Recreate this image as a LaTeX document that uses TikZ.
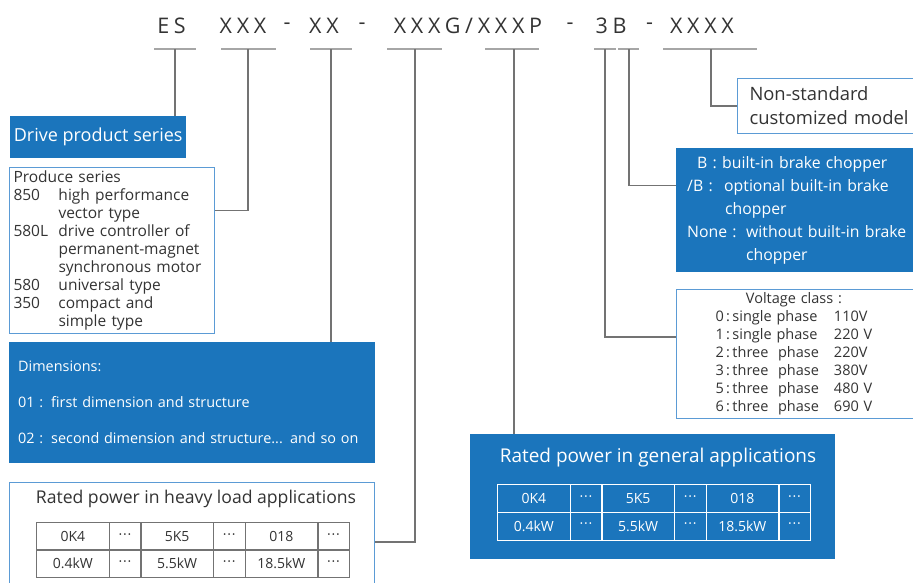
\documentclass[tikz,border=0pt]{standalone}
\usepackage{fontspec}
\setmainfont{Open Sans}
\newfontfamily\codefont[LetterSpace=22]{Open Sans}
\usetikzlibrary{positioning, matrix}

\definecolor{esblue}{RGB}{27,117,188}
\definecolor{edgeblue}{RGB}{91,155,213}
\definecolor{wiregray}{RGB}{115,115,115}
\definecolor{bargray}{RGB}{166,166,166}
\definecolor{inkgray}{RGB}{51,51,51}

\newcommand{\tdots}{·\kern0.8pt·\kern0.8pt·}

\begin{document}
\begin{tikzpicture}[x=1pt, y=-1pt,
  bluebox/.style={rectangle, fill=esblue, text=white, anchor=north west, inner sep=0pt},
  whitebox/.style={rectangle, draw=edgeblue, line width=1pt, fill=white, text=inkgray, anchor=north west, inner sep=0pt},
  code/.style={font=\codefont\fontsize{21.5}{24}\selectfont, text=inkgray, inner sep=0pt},
  bar/.style={draw=bargray, line width=1.3pt},
  wire/.style={draw=wiregray, line width=1.1pt},
  cell/.style={rectangle, draw, anchor=center, inner sep=0pt, outer sep=0pt, minimum height=#1, font=\fontsize{14}{16}\selectfont},
  ratetable/.style={matrix of nodes, anchor=north west, inner sep=0pt,
    column sep=-0.8pt, row sep=-0.8pt, nodes in empty cells,
    column 1/.style={nodes={minimum width=73pt}}, column 2/.style={nodes={minimum width=32pt}},
    column 3/.style={nodes={minimum width=73pt}}, column 4/.style={nodes={minimum width=32pt}},
    column 5/.style={nodes={minimum width=73pt}}, column 6/.style={nodes={minimum width=32pt}}}
]
\useasboundingbox (0,0) rectangle (913,582);

% ---------- Model code ----------
\foreach \x/\t [count=\i] in {171.5/ES, 243/XXX, 287/-, 324/XX, 362/-, 468/{XXXG/XXXP}, 570/-, 611/3B, 649.5/-, 702/XXXX}
  \node[code] (code\i) at (\x,26) {\t};

\foreach \l/\r/\s/\n in {154/196/175/es, 221/276/248/series, 310/352/331/dim, 387/442/415/heavy,
                         485/539/514/gen, 594/616/605/volt, 618/639/629/brake, 663/757/711/custom} {
  \draw[bar] (\l,49) -- (\r,49);
  \coordinate (\n) at (\s,49);
}

% ---------- Left column ----------
\node[bluebox, minimum width=176pt, minimum height=42pt, font=\fontsize{18}{22}\selectfont] (drive) at (10,116) {Drive product series};

\node[whitebox, minimum height=166pt, inner xsep=4pt, text width=197pt, align=left, font=\fontsize{15.5}{18}\selectfont] (prod) at (9,167) {Produce series\\
\makebox[45pt][l]{850}high performance\\
\hspace*{45pt}vector type\\
\makebox[45pt][l]{580L}drive controller of\\
\hspace*{45pt}permanent-magnet\\
\hspace*{45pt}synchronous motor\\
\makebox[45pt][l]{580}universal type\\
\makebox[45pt][l]{350}compact and\\
\hspace*{45pt}simple type};

\node[bluebox, minimum height=121pt, inner xsep=9pt, text width=348pt, align=left, font=\fontsize{14.4}{36}\selectfont] (dims) at (9,342) {Dimensions:\\
\makebox[33pt][l]{01 :}first dimension and structure\\
\makebox[33pt][l]{02 :}second dimension and structure... and so on};

\node[whitebox, minimum width=365pt, minimum height=120pt] (hbox) at (9,482) {};
\node[font=\fontsize{17.6}{20}\selectfont, text=inkgray] (htitle) at (196,499) {Rated power in heavy load applications};
\matrix[ratetable, nodes={cell=27.5pt, draw=wiregray, text=inkgray}] (htable) at (36,522) {
  0K4 & \tdots & 5K5 & \tdots & 018 & \tdots \\
  0.4kW & \tdots & 5.5kW & \tdots & 18.5kW & \tdots \\
};

% ---------- Right column ----------
\node[whitebox, minimum height=55pt, inner xsep=12pt, text width=180pt, align=left, font=\fontsize{18.4}{24}\selectfont] (cbox) at (737,78) {Non-standard\\customized model};

\node[bluebox, minimum height=124pt, inner xsep=11pt, text width=230pt, align=left, font=\fontsize{15.8}{23}\selectfont] (bbox) at (676,148) {\hspace*{10pt}\makebox[25pt][l]{B :}built-in brake chopper\\
\makebox[37pt][l]{/B :}optional built-in brake\\
\hspace*{38pt}chopper\\
\makebox[59pt][l]{None :}without built-in brake\\
\hspace*{59pt}chopper};

\node[whitebox, minimum height=129pt, inner xsep=39pt, text width=200pt, align=left, font=\fontsize{14.5}{18}\selectfont] (vbox) at (676,289) {\begin{tabular}{@{}r@{\,:\,}l@{\hspace{15pt}}l@{}}
\multicolumn{3}{c}{Voltage class :}\\
0 & single phase & 110V\\
1 & single phase & 220 V\\
2 & three\ \ phase & 220V\\
3 & three\ \ phase & 380V\\
5 & three\ \ phase & 480 V\\
6 & three\ \ phase & 690 V
\end{tabular}};

\node[bluebox, minimum width=365pt, minimum height=125pt] (gbox) at (470,434) {};
\node[font=\fontsize{19}{22}\selectfont, text=white] (gtitle) at (658,458) {Rated power in general applications};
\matrix[ratetable, nodes={cell=28pt, draw=white, text=white}] (gtable) at (497,484) {
  0K4 & \tdots & 5K5 & \tdots & 018 & \tdots \\
  0.4kW & \tdots & 5.5kW & \tdots & 18.5kW & \tdots \\
};

% ---------- Connectors ----------
\draw[wire] (es) -- (drive.north -| es);
\draw[wire] (series) |- ([shift={(0,-40)}]prod.east);
\draw[wire] (dim) -- (dims.north -| dim);
\draw[wire] (heavy) |- ([shift={(0,60)}]hbox.north east);
\draw[wire] (gen) -- (gbox.north -| gen);
\draw[wire] (volt) |- ([shift={(0,-17)}]vbox.west);
\draw[wire] (brake) |- ([shift={(0,-25)}]bbox.west);
\draw[wire] (custom) |- (cbox.west);

\end{tikzpicture}
\end{document}
